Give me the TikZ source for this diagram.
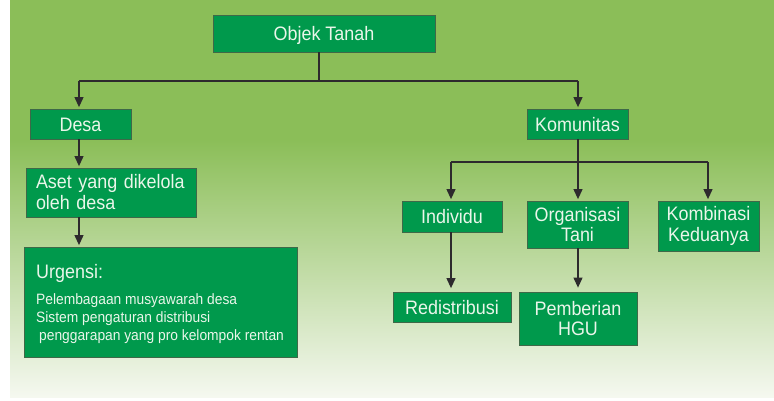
\documentclass[tikz,border=0pt]{standalone}
\usepackage{fontspec}
\setmainfont{Liberation Sans}[FakeStretch=0.92]
\usetikzlibrary{arrows.meta,calc}
\definecolor{bggreen}{RGB}{139,190,88}
\definecolor{bgpale}{RGB}{245,248,240}
\definecolor{boxfill}{RGB}{0,153,76}
\definecolor{boxline}{RGB}{62,105,72}
\definecolor{txt}{RGB}{234,246,234}
\definecolor{conn}{RGB}{45,42,45}
\tikzset{
  gbox/.style={draw=boxline, line width=0.8pt, fill=boxfill, text=txt,
    font=\fontsize{19.5}{20.5}\selectfont, inner sep=0pt, anchor=center},
  onel/.style={text height=14pt, text depth=0pt},
  twol/.style={align=center},
  lbl/.style={text=txt, inner sep=0pt},
  arr/.style={draw=conn, line width=1.1pt, -{Triangle[width=9pt,length=10pt]}, shorten >=1.5pt},
  ln/.style={draw=conn, line width=1.1pt},
}
\begin{document}
\begin{tikzpicture}[x=1pt,y=-1pt]
\useasboundingbox (0,0) rectangle (774,400);
% background
\fill[white] (0,0) rectangle (774,400);
\fill[bggreen] (10,0) rectangle (774,140);
\shade[top color=bggreen, bottom color=bgpale] (10,140) rectangle (774,397);

% nodes
\node[gbox,onel,minimum width=222pt,minimum height=37pt] (obj) at (324,33.5) {Objek Tanah};
\node[gbox,onel,minimum width=101pt,minimum height=30pt] (desa) at (80.5,124) {Desa};
\node[gbox,onel,minimum width=101pt,minimum height=30pt] (kom) at (577.5,124) {Komunitas};
\node[gbox,align=left,text width=150pt,inner xsep=10pt,minimum width=170pt,minimum height=49pt] (aset) at (111,192.5) {Aset yang dikelola\\[0.5pt]oleh desa};
\node[gbox,minimum width=273pt,minimum height=110pt] (urg) at (160.5,302) {};
\node[lbl,anchor=base west,font=\fontsize{19.5}{20}\selectfont] (u0) at (36,278) {Urgensi:};
\node[lbl,anchor=base west,font=\fontsize{15}{16}\selectfont] (u1) at (36,304) {Pelembagaan musyawarah desa};
\node[lbl,anchor=base west,font=\fontsize{15}{16}\selectfont] (u2) at (36,322) {Sistem pengaturan distribusi};
\node[lbl,anchor=base west,font=\fontsize{15}{16}\selectfont] (u3) at (39,340) {penggarapan yang pro kelompok rentan};

\node[gbox,onel,minimum width=100pt,minimum height=31pt] (ind) at (452,216.5) {Individu};
\node[gbox,twol,minimum width=101pt,minimum height=47pt] (org) at (577.5,224.5) {Organisasi\\Tani};
\node[gbox,twol,minimum width=101pt,minimum height=50pt] (komb) at (708.5,226) {Kombinasi\\Keduanya};
\node[gbox,onel,minimum width=118pt,minimum height=30pt] (red) at (452,307) {Redistribusi};
\node[gbox,twol,minimum width=118pt,minimum height=53pt] (pem) at (578,318.5) {Pemberian\\HGU};

% connectors
\coordinate (j0) at (319,81);
\coordinate (jd) at (79,81);
\coordinate (jk) at (578,81);
\draw[ln] (obj.south -| j0) -- (j0);
\draw[ln] (jd) -- (jk);
\draw[arr] (jd) -- (desa.north -| jd);
\draw[arr] (jk) -- (kom.north -| jk);
\draw[arr] (desa.south -| jd) -- (aset.north -| jd);
\draw[arr] (aset.south -| jd) -- (urg.north -| jd);

\coordinate (j1) at (578,162);
\coordinate (ji) at (451,162);
\coordinate (jc) at (708,162);
\draw[ln] (ji) -- (jc);
\draw[arr] (kom.south -| j1) -- (org.north -| j1);
\draw[arr] (ji) -- (ind.north -| ji);
\draw[arr] (jc) -- (komb.north -| jc);
\draw[arr,shorten >=3.5pt] (ind.south -| ji) -- (red.north -| ji);
\draw[arr,shorten >=4pt] (org.south -| j1) -- (pem.north -| j1);
\end{tikzpicture}
\end{document}
